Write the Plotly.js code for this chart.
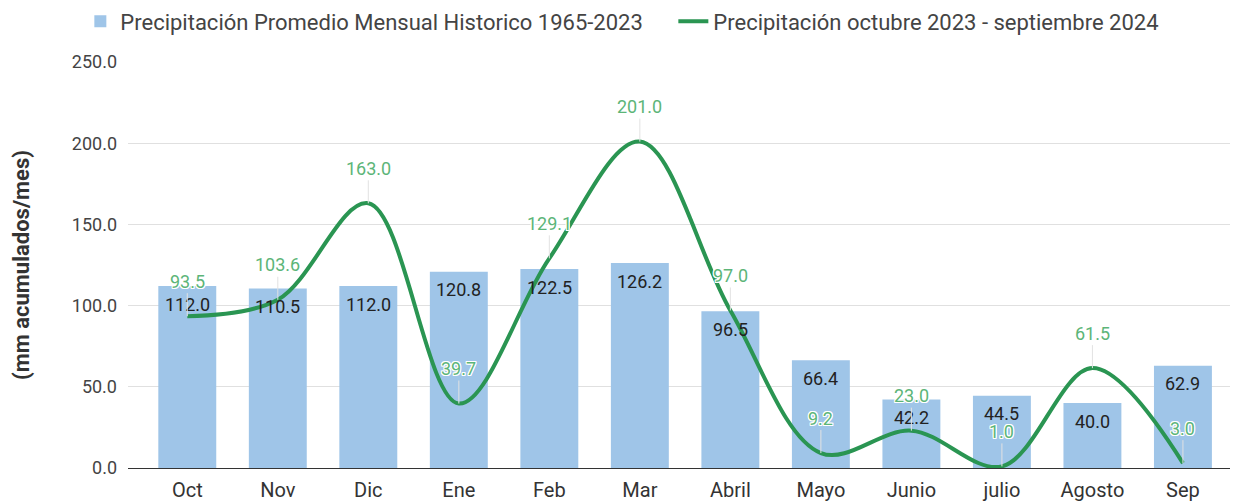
<!DOCTYPE html>
<html>
<head>
<meta charset="utf-8">
<script src="https://cdn.plot.ly/plotly-3.0.1.min.js"></script>
<style>
  html, body { margin: 0; padding: 0; background: #fff; }
  #chart { width: 1236px; height: 501px; }
</style>
</head>
<body>
<div id="chart"></div>
<script>
// Monthly precipitation, Oct 2023 - Sep 2024, against the 1965-2023 monthly mean
const months = ['Oct', 'Nov', 'Dic', 'Ene', 'Feb', 'Mar', 'Abril', 'Mayo', 'Junio', 'julio', 'Agosto', 'Sep'];
const historicMean = [112.0, 110.5, 112.0, 120.8, 122.5, 126.2, 96.5, 66.4, 42.2, 44.5, 40.0, 62.9];
const season2324 = [93.5, 103.6, 163.0, 39.7, 129.1, 201.0, 97.0, 9.2, 23.0, 1.0, 61.5, 3.0];
const yTicks = [0, 50, 100, 150, 200, 250];
const yTickText = ['0.0', '50.0', '100.0', '150.0', '200.0', '250.0'];

const seriesNames = [
  'Precipitación Promedio Mensual Historico 1965-2023',
  'Precipitación octubre 2023 - septiembre 2024'
];

const FONT = 'Roboto, "Open Sans", Arial, sans-serif';
const BAR_COLOR = '#9fc5e8';
const LINE_COLOR = '#2a9552';
const LABEL_GREEN = '#5cb578';
const halo = '1px 1px 0 #fff, -1px -1px 0 #fff, 1px -1px 0 #fff, -1px 1px 0 #fff, 0 1px 0 #fff, 0 -1px 0 #fff, 1px 0 0 #fff, -1px 0 0 #fff';

const fmt = v => v.toFixed(1);

const bars = {
  type: 'bar',
  name: seriesNames[0],
  x: months,
  y: historicMean,
  width: 0.64,
  legendwidth: 548,
  marker: { color: BAR_COLOR, line: { width: 0 } },
  hoverinfo: 'x+y'
};

const line = {
  type: 'scatter',
  mode: 'lines',
  name: seriesNames[1],
  x: months,
  y: season2324,
  line: { color: LINE_COLOR, width: 4, shape: 'spline', smoothing: 1 },
  hoverinfo: 'x+y'
};

// value labels: bars get dark text just under their top edge,
// the line gets green labels on a short stem above each point
const annotations = [];
months.forEach((m, i) => {
  annotations.push({
    x: m, y: historicMean[i], xref: 'x', yref: 'y',
    text: fmt(historicMean[i]), showarrow: false, yshift: -18,
    font: { family: FONT, size: 18, color: '#222' }
  });
});
months.forEach((m, i) => {
  annotations.push({
    x: m, y: season2324[i], xref: 'x', yref: 'y',
    text: fmt(season2324[i]), showarrow: true, arrowhead: 0,
    arrowwidth: 1, arrowcolor: '#e2e2e2', ax: 0, ay: -35,
    font: { family: FONT, size: 18, color: LABEL_GREEN, shadow: halo }
  });
});

const layout = {
  width: 1236,
  height: 501,
  margin: { l: 128, r: 6, t: 62, b: 33, autoexpand: false },
  paper_bgcolor: '#fff',
  plot_bgcolor: '#fff',
  font: { family: FONT, color: '#444', size: 16 },
  barmode: 'overlay',
  showlegend: true,
  legend: {
    orientation: 'h',
    xref: 'container', yref: 'container',
    x: 0.065, y: 0.999, xanchor: 'left', yanchor: 'top',
    font: { family: FONT, size: 22, color: '#444' },
    itemclick: false
  },
  xaxis: {
    type: 'category',
    range: [-0.655, 11.52],
    showgrid: false,
    showline: true,
    linecolor: '#333',
    linewidth: 1,
    ticks: '',
    ticklabelstandoff: 4,
    tickfont: { family: FONT, size: 20, color: '#333' },
    fixedrange: true
  },
  yaxis: {
    range: [0, 250],
    tickvals: yTicks,
    ticktext: yTickText,
    showgrid: true,
    gridcolor: '#e0e0e0',
    gridwidth: 1,
    zeroline: false,
    showline: false,
    ticks: '',
    ticklabelstandoff: 10,
    tickfont: { family: FONT, size: 18, color: '#444' },
    title: {
      text: '<b>(mm acumulados/mes)</b>',
      font: { family: FONT, size: 22, color: '#333' },
      standoff: 36
    },
    fixedrange: true
  },
  annotations: annotations
};

Plotly.newPlot('chart', [bars, line], layout, { displayModeBar: false, staticPlot: true });
</script>
</body>
</html>
